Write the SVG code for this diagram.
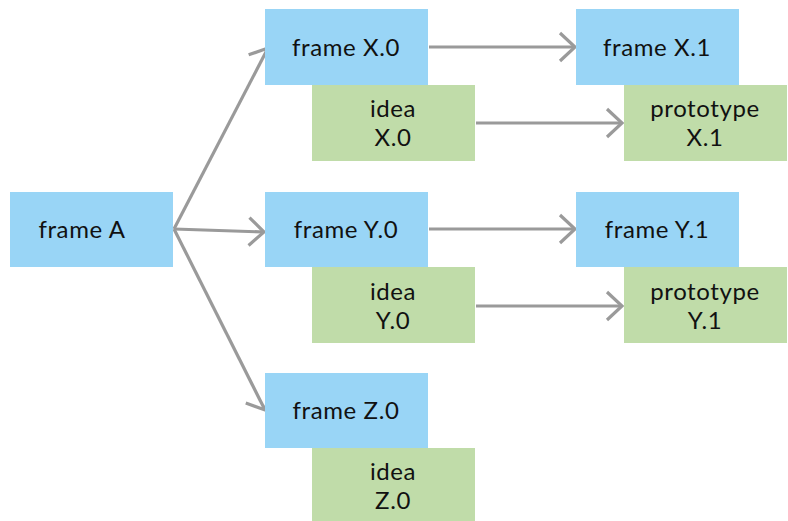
<svg xmlns="http://www.w3.org/2000/svg" width="788" height="521" viewBox="0 0 788 521">
<defs>
<style>
.frame{fill:#99d5f6;}
.idea{fill:#c0dca9;}
text{font-family:Lato,"Open Sans","Noto Sans",sans-serif;font-size:24px;letter-spacing:0.6px;fill:#111;text-anchor:middle;}
.conn{stroke:#9a9a9a;stroke-width:3.2;fill:none;}
</style>
<marker id="arr" markerUnits="userSpaceOnUse" markerWidth="24" markerHeight="36" refX="20" refY="18" orient="auto" viewBox="0 0 24 36">
<path d="M5,4 L20,18 L5,32" fill="none" stroke="#9a9a9a" stroke-width="3.2"/>
</marker>
</defs>
<rect width="788" height="521" fill="#fff"/>
<g id="connectors">
<line class="conn" x1="174" y1="229" x2="268" y2="48" marker-end="url(#arr)"/>
<line class="conn" x1="174" y1="229" x2="264" y2="232" marker-end="url(#arr)"/>
<line class="conn" x1="174" y1="229" x2="265" y2="410" marker-end="url(#arr)"/>
<line class="conn" x1="429" y1="47" x2="575" y2="47" marker-end="url(#arr)"/>
<line class="conn" x1="476" y1="123" x2="622" y2="123" marker-end="url(#arr)"/>
<line class="conn" x1="429" y1="229" x2="575" y2="229" marker-end="url(#arr)"/>
<line class="conn" x1="476" y1="306" x2="622" y2="306" marker-end="url(#arr)"/>
</g>
<g id="frameA"><rect class="frame" x="10" y="192" width="163" height="75"/><text x="82" y="238">frame A</text></g>
<g id="frameX0"><rect class="frame" x="265" y="9" width="163" height="76"/><text x="346" y="56">frame X.0</text></g>
<g id="ideaX0"><rect class="idea" x="312" y="85" width="163" height="76"/><text x="393" y="117">idea</text><text x="393" y="146">X.0</text></g>
<g id="frameX1"><rect class="frame" x="576" y="9" width="163" height="76"/><text x="657" y="56">frame X.1</text></g>
<g id="protoX1"><rect class="idea" x="624" y="85" width="163" height="76"/><text x="705" y="117">prototype</text><text x="705" y="146">X.1</text></g>
<g id="frameY0"><rect class="frame" x="265" y="192" width="163" height="75"/><text x="346" y="238">frame Y.0</text></g>
<g id="ideaY0"><rect class="idea" x="312" y="267" width="163" height="76"/><text x="393" y="300">idea</text><text x="393" y="329">Y.0</text></g>
<g id="frameY1"><rect class="frame" x="576" y="192" width="163" height="75"/><text x="657" y="238">frame Y.1</text></g>
<g id="protoY1"><rect class="idea" x="624" y="267" width="163" height="76"/><text x="705" y="300">prototype</text><text x="705" y="329">Y.1</text></g>
<g id="frameZ0"><rect class="frame" x="265" y="373" width="163" height="75"/><text x="346" y="419">frame Z.0</text></g>
<g id="ideaZ0"><rect class="idea" x="312" y="448" width="163" height="73"/><text x="393" y="480">idea</text><text x="393" y="509">Z.0</text></g>
</svg>
